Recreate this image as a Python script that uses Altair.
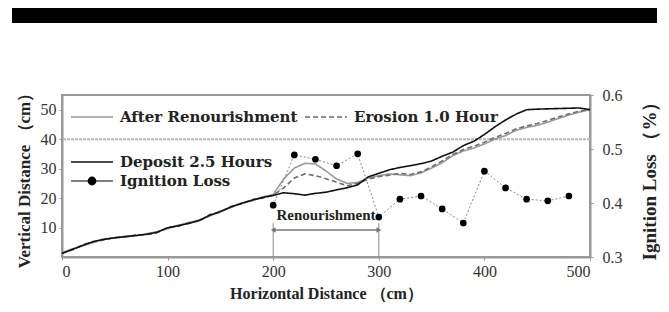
import altair as alt
import pandas as pd

# ---------------- data ----------------
x_profile = list(range(0, 501, 10))

after_renourishment = [1.5, 2.8, 3.8, 5.0, 6.2, 6.4, 7.1, 7.2, 7.9, 8.6,
                       9.6, 10.8, 11.6, 12.6, 13.9, 15.6, 16.8, 18.4, 19.0, 20.4,
                       21.2, 26.5, 30.2, 31.8, 31.6, 29.2, 26.5, 25.0, 25.3, 26.8,
                       27.6, 28.2, 27.9, 27.6, 28.6, 30.2, 32.0, 34.4, 36.0, 37.0,
                       38.4, 40.0, 41.2, 43.0, 44.0, 44.7, 45.8, 47.0, 48.2, 49.2,
                       50.0]
erosion_1h = [1.3, 2.4, 4.2, 5.1, 5.8, 6.7, 6.8, 7.5, 7.6, 8.2,
              10.1, 10.4, 11.7, 12.2, 14.4, 15.2, 17.2, 18.0, 19.5, 20.0,
              21.0, 23.5, 26.8, 28.2, 27.6, 26.6, 25.4, 24.2, 25.0, 26.4,
              27.3, 27.8, 28.4, 28.0, 28.9, 30.6, 32.6, 34.8, 36.5, 37.6,
              39.0, 40.6, 41.9, 43.5, 44.5, 45.3, 46.4, 47.5, 48.6, 49.5,
              50.2]
deposit_25h = [1.2, 2.6, 4.0, 5.3, 6.0, 6.5, 6.9, 7.3, 7.7, 8.4,
               9.9, 10.6, 11.4, 12.4, 14.2, 15.4, 17.0, 18.2, 19.3, 20.2,
               20.9, 21.8, 21.5, 21.0, 21.6, 22.0, 22.8, 23.5, 24.5, 27.2,
               28.4, 29.6, 30.4, 31.0, 31.7, 32.6, 34.2, 35.6, 37.8, 39.3,
               41.6, 44.2, 46.5, 48.5, 50.0, 50.2, 50.3, 50.4, 50.5, 50.6,
               50.0]

ign_x = [200, 220, 240, 260, 280, 300, 320, 340, 360, 380, 400, 420, 440, 460, 480]
ign_loss = [0.396, 0.489, 0.481, 0.469, 0.491, 0.374, 0.407, 0.413, 0.389, 0.363,
            0.459, 0.428, 0.407, 0.404, 0.413]

# legend order (column-major in the legend grid)
series_names = ["After Renourishment", "Deposit 2.5 Hours", "Erosion 1.0 Hour"]
series_colors = ["#9a9a9a", "#111111", "#6e6e6e"]
series_dashes = [[1, 0], [1, 0], [5, 3]]
draw_order = ["After Renourishment", "Erosion 1.0 Hour", "Deposit 2.5 Hours"]

reno_bounds = [200, 300]
reno_label = "Renourishment"
reno_label_pos = [250, 14.3]
reno_arrow_y = 9.2
reno_mark_top = 11.5
ref_level = 40

x_ticks = [0, 100, 200, 300, 400, 500]
y_ticks = [10, 20, 30, 40, 50]
y2_ticks = [0.3, 0.4, 0.5, 0.6]

# ---------------- tables ----------------
series_values = {"After Renourishment": after_renourishment,
                 "Erosion 1.0 Hour": erosion_1h,
                 "Deposit 2.5 Hours": deposit_25h}
rows = []
for name in draw_order:
    for xv, yv in zip(x_profile, series_values[name]):
        rows.append({"series": name, "x": xv, "y": yv})
prof = pd.DataFrame(rows)

ign = pd.DataFrame({"x": ign_x, "loss": ign_loss, "item": "Ignition Loss"})
reno_df = pd.DataFrame({"x": reno_bounds})
arrow_df = pd.DataFrame({"x1": [reno_bounds[0]], "x2": [reno_bounds[1]], "y": [reno_arrow_y]})
head_df = pd.DataFrame({"x": reno_bounds, "y": [reno_arrow_y] * 2,
                        "shape": ["triangle-left", "triangle-right"]})
label_df = pd.DataFrame({"x": [reno_label_pos[0]], "y": [reno_label_pos[1]], "t": [reno_label]})
ref_df = pd.DataFrame({"y": [ref_level]})
one = pd.DataFrame({"k": [0]})

FONT = "Liberation Serif"
LEGFONT = "DejaVu Serif"

xscale = alt.Scale(domain=[0, 500], nice=False)
yscale = alt.Scale(domain=[0, 55], nice=False)

X = alt.X("x:Q", scale=xscale,
          axis=alt.Axis(values=x_ticks, title="Horizontal Distance （cm）", titlePadding=6))
Yl = alt.Y("y:Q", scale=yscale,
           axis=alt.Axis(values=y_ticks, title="Vertical Distance （cm）", titlePadding=7,
                         titleFontSize=17))

leg1 = alt.Legend(title=None, orient="none", legendX=8, legendY=0, columns=2,
                  symbolType="stroke", symbolSize=1764, symbolStrokeWidth=1.5,
                  labelFont=LEGFONT, labelFontSize=15, labelFontWeight="bold",
                  labelColor="#222", labelOffset=6, columnPadding=4, rowPadding=15,
                  padding=0, labelLimit=400)

cscale = alt.Scale(domain=series_names, range=series_colors)
dscale = alt.Scale(domain=series_names, range=series_dashes)

line_layers = []
for name in draw_order:
    line_layers.append(
        alt.Chart(prof).transform_filter(alt.datum.series == name)
        .mark_line(strokeWidth=1.6)
        .encode(x=X, y=Yl,
                color=alt.Color("series:N", scale=cscale, legend=leg1),
                strokeDash=alt.StrokeDash("series:N", scale=dscale, legend=leg1))
    )

ref_rule = alt.Chart(ref_df).mark_rule(color="#b5b5b5", strokeWidth=2, strokeDash=[3, 1]).encode(
    y=alt.Y("y:Q", scale=yscale))

reno_rules = alt.Chart(reno_df).mark_rule(color="#888", strokeWidth=1).encode(
    x=alt.X("x:Q", scale=xscale), y=alt.datum(0), y2=alt.datum(reno_mark_top))
arrow = alt.Chart(arrow_df).mark_rule(color="#777", strokeWidth=1.5).encode(
    x=alt.X("x1:Q", scale=xscale), x2="x2:Q", y=alt.Y("y:Q", scale=yscale))
heads = alt.Chart(head_df).mark_point(filled=True, size=30, color="#777", opacity=1).encode(
    x=alt.X("x:Q", scale=xscale), y=alt.Y("y:Q", scale=yscale),
    shape=alt.Shape("shape:N", scale=None))
label = alt.Chart(label_df).mark_text(font=FONT, fontSize=15, fontWeight="bold", color="#222").encode(
    x=alt.X("x:Q", scale=xscale), y=alt.Y("y:Q", scale=yscale), text="t:N")

bar = alt.Chart(one).mark_rect(color="black").encode(
    x=alt.value(-50), x2=alt.value(595), y=alt.value(-87), y2=alt.value(-72))

left_part = alt.layer(ref_rule, reno_rules, arrow, heads, label, *line_layers, bar)

Yr = alt.Y("loss:Q", scale=alt.Scale(domain=[0.3, 0.6], nice=False),
           axis=alt.Axis(orient="right", values=y2_ticks, format=".1f",
                         title="Ignition Loss （%）", titleAngle=270, titlePadding=37,
                         titleFontSize=19, labelPadding=9))

leg2 = alt.Legend(title=None, orient="none", legendX=8, legendY=64,
                  symbolType="M-1,0H1M-0.18,0A0.18,0.18,0,1,1,0.18,0A0.18,0.18,0,1,1,-0.18,0Z",
                  symbolSize=1764, symbolStrokeColor="black", symbolStrokeWidth=1.2,
                  labelFont=LEGFONT, labelFontSize=15, labelFontWeight="bold",
                  labelColor="#222", labelOffset=6, padding=0, labelLimit=400)

ign_line = alt.Chart(ign).mark_line(color="#888", strokeWidth=1, strokeDash=[2, 2]).encode(
    x=alt.X("x:Q", scale=xscale), y=Yr)
ign_pts = alt.Chart(ign).mark_point(filled=True, size=45, opacity=1).encode(
    x=alt.X("x:Q", scale=xscale), y=Yr,
    fill=alt.Fill("item:N", scale=alt.Scale(range=["black"]), legend=leg2))

right_part = alt.layer(ign_line, ign_pts)

chart = alt.layer(left_part, right_part).resolve_scale(y="independent").properties(
    width=528, height=162,
    autosize=alt.AutoSizeParams(type="none"),
    padding={"left": 54, "top": 87, "right": 70, "bottom": 47},
    background="white",
).configure_view(stroke="#999", strokeWidth=2).configure_axis(
    grid=False, domainColor="#999", domainWidth=2, tickColor="#999", tickSize=3,
    labelFont=FONT, labelFontSize=16, labelColor="#333", labelPadding=3,
    titleFont=FONT, titleFontSize=16, titleFontWeight="bold", titleColor="#222",
)

chart.save("out.html", embed_options={"renderer": "svg", "actions": False})
